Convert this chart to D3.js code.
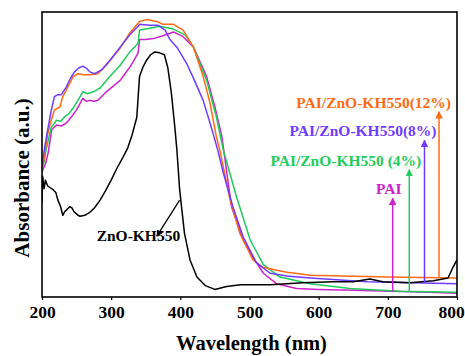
<!DOCTYPE html>
<html>
<head>
<meta charset="utf-8">
<script src="https://cdn.jsdelivr.net/npm/d3@7"></script>
<style>
  body { margin: 0; background: #fff; }
</style>
</head>
<body>
<div id="chart"></div>
<script>
// wavelength (nm) / absorbance (a.u.)
const znoWl  = [200, 201, 203, 205, 208, 212, 216, 220, 223, 227, 230, 233, 236, 240, 243, 246, 249, 252, 255, 262, 269, 276, 284, 292, 300, 308, 317, 324, 330, 337, 341, 346, 351, 357, 363, 370, 377, 382, 387, 392, 395, 399, 406, 414, 424, 436, 450, 467, 487, 530, 577, 621, 650, 674, 693, 732, 766, 787, 794, 800];
const znoAbs = [1.00, 1.27, 1.14, 1.23, 1.17, 1.15, 1.13, 1.10, 1.02, 0.95, 0.86, 0.90, 0.92, 0.95, 0.94, 0.90, 0.88, 0.86, 0.85, 0.86, 0.89, 0.94, 1.02, 1.12, 1.23, 1.35, 1.47, 1.57, 1.70, 1.89, 2.32, 2.42, 2.49, 2.55, 2.58, 2.57, 2.55, 2.41, 2.15, 1.79, 1.55, 1.13, 0.67, 0.39, 0.21, 0.12, 0.08, 0.11, 0.13, 0.13, 0.15, 0.16, 0.16, 0.19, 0.16, 0.15, 0.17, 0.20, 0.31, 0.39];

const paiWl  = [200, 205, 209, 214, 221, 228, 235, 243, 250, 259, 264, 269, 275, 281, 293, 303, 313, 320, 327, 333, 339, 341, 350, 361, 375, 390, 404, 419, 438, 450, 460, 474, 491, 505, 520, 539, 568, 600, 650, 703, 760, 800];
const paiAbs = [1.32, 1.40, 1.52, 1.76, 1.81, 1.80, 1.83, 1.90, 1.97, 2.09, 2.06, 2.07, 2.06, 2.07, 2.16, 2.22, 2.28, 2.35, 2.42, 2.49, 2.57, 2.71, 2.71, 2.72, 2.75, 2.79, 2.74, 2.63, 2.32, 2.00, 1.69, 0.95, 0.60, 0.42, 0.25, 0.14, 0.09, 0.08, 0.07, 0.06, 0.05, 0.04];

const zno4Wl  = [200, 203, 206, 213, 221, 227, 233, 239, 245, 252, 259, 266, 274, 284, 298, 313, 327, 339, 341, 356, 370, 390, 407, 419, 438, 452, 462, 481, 501, 520, 544, 588, 645, 718, 800];
const zno4Abs = [1.34, 1.42, 1.55, 1.78, 1.86, 1.85, 1.90, 1.93, 1.99, 2.07, 2.16, 2.14, 2.16, 2.20, 2.32, 2.44, 2.58, 2.67, 2.81, 2.83, 2.85, 2.82, 2.76, 2.63, 2.28, 1.90, 1.55, 1.06, 0.60, 0.34, 0.21, 0.14, 0.09, 0.06, 0.05];

const zno8Wl  = [200, 204, 209, 213, 218, 223, 228, 235, 241, 247, 253, 259, 264, 269, 276, 286, 298, 313, 327, 339, 341, 356, 368, 378, 385, 395, 409, 418, 433, 443, 454, 462, 476, 491, 510, 530, 554, 588, 670, 800];
const zno8Abs = [1.39, 1.58, 1.79, 1.95, 2.11, 2.13, 2.13, 2.21, 2.30, 2.37, 2.41, 2.43, 2.41, 2.37, 2.35, 2.39, 2.49, 2.63, 2.76, 2.85, 2.87, 2.86, 2.86, 2.81, 2.71, 2.63, 2.46, 2.32, 2.07, 1.83, 1.55, 1.31, 0.95, 0.63, 0.36, 0.25, 0.22, 0.20, 0.16, 0.14];

const zno12Wl  = [200, 202, 208, 213, 218, 226, 230, 238, 245, 252, 260, 269, 281, 293, 313, 327, 341, 351, 366, 375, 390, 404, 419, 433, 443, 452, 457, 472, 486, 505, 520, 554, 588, 700, 800];
const zno12Abs = [1.36, 1.41, 1.71, 1.85, 1.97, 2.00, 2.11, 2.22, 2.32, 2.35, 2.34, 2.34, 2.35, 2.44, 2.62, 2.78, 2.90, 2.92, 2.90, 2.87, 2.87, 2.81, 2.63, 2.32, 2.04, 1.69, 1.55, 1.02, 0.67, 0.39, 0.31, 0.26, 0.23, 0.21, 0.20];

const seriesNames  = ["ZnO-KH550", "PAI", "PAI/ZnO-KH550 (4%)", "PAI/ZnO-KH550(8%)", "PAI/ZnO-KH550(12%)"];
const seriesColors = ["#000000", "#cc22cc", "#1fcc5a", "#6f3cff", "#ff6a12"];

// arrow wavelength and tip absorbance for the four polymer labels
const arrowSeries = [1, 2, 3, 4];
const arrowWl  = [707, 731, 753, 774];
const arrowTop = [1.04, 1.34, 1.65, 1.95];

const xTicks = [200, 300, 400, 500, 600, 700, 800];

const width = 465, height = 356;
const margin = { top: 12, right: 8, bottom: 59, left: 42 };
const serif = "Liberation Serif";

const svg = d3.select("#chart").append("svg")
    .attr("width", width)
    .attr("height", height);

const x = d3.scaleLinear().domain([200, 800]).range([margin.left, width - margin.right]);
const y = d3.scaleLinear().domain([0, 3]).range([height - margin.bottom, margin.top]);

const series = [
    { wl: znoWl, abs: znoAbs },
    { wl: paiWl, abs: paiAbs },
    { wl: zno4Wl, abs: zno4Abs },
    { wl: zno8Wl, abs: zno8Abs },
    { wl: zno12Wl, abs: zno12Abs }
].map((s, i) => ({
    name: seriesNames[i],
    color: seriesColors[i],
    points: s.wl.map((w, j) => [w, s.abs[j]])
}));

const defs = svg.append("defs");
defs.append("clipPath").attr("id", "plot-clip")
  .append("rect")
    .attr("x", margin.left)
    .attr("y", margin.top)
    .attr("width", width - margin.left - margin.right)
    .attr("height", height - margin.top - margin.bottom);

seriesColors.forEach((c, i) => {
    defs.append("marker")
        .attr("id", "head" + i)
        .attr("viewBox", "0 0 10 10")
        .attr("refX", 9).attr("refY", 5)
        .attr("markerWidth", 5).attr("markerHeight", 5)
        .attr("markerUnits", "strokeWidth")
        .attr("orient", "auto")
      .append("path")
        .attr("d", "M0,0L10,5L0,10z")
        .attr("fill", c);
});

const line = d3.line()
    .x(d => x(d[0]))
    .y(d => y(d[1]));

// polymer curves first, bare filler on top
const drawOrder = [1, 2, 4, 3, 0];
svg.append("g").attr("clip-path", "url(#plot-clip)")
  .selectAll("path")
  .data(drawOrder.map(i => series[i]))
  .join("path")
    .attr("d", d => line(d.points))
    .attr("fill", "none")
    .attr("stroke", d => d.color)
    .attr("stroke-width", 1.5)
    .attr("stroke-linejoin", "round");

// value of a series at a wavelength (for where the arrow starts)
function valueAt(s, w) {
    const pts = s.points;
    const k = d3.bisector(d => d[0]).left(pts, w);
    if (k <= 0) return pts[0][1];
    if (k >= pts.length) return pts[pts.length - 1][1];
    const a = pts[k - 1], b = pts[k];
    return a[1] + (b[1] - a[1]) * (w - a[0]) / (b[0] - a[0]);
}

const labels = svg.append("g")
    .attr("font-family", serif)
    .attr("font-weight", "bold");

arrowSeries.forEach((si, i) => {
    const s = series[si];
    const xa = x(arrowWl[i]);
    labels.append("line")
        .attr("x1", xa).attr("x2", xa)
        .attr("y1", y(valueAt(s, arrowWl[i])))
        .attr("y2", y(arrowTop[i]))
        .attr("stroke", s.color)
        .attr("stroke-width", 1.5)
        .attr("marker-end", "url(#head" + si + ")");
    labels.append("text")
        .attr("x", si === 1 ? xa - 4 : xa + 12)
        .attr("y", y(arrowTop[i]) - 4)
        .attr("text-anchor", si === 1 ? "middle" : "end")
        .attr("font-size", 15.5)
        .attr("fill", s.color)
        .text(s.name);
});

// ZnO-KH550 callout
labels.append("line")
    .attr("x1", x(399)).attr("y1", y(1.02))
    .attr("x2", x(366)).attr("y2", y(0.64))
    .attr("stroke", "#000")
    .attr("stroke-width", 1.3)
    .attr("marker-end", "url(#head0)");
labels.append("text")
    .attr("x", x(279))
    .attr("y", y(0.59))
    .attr("font-size", 15.5)
    .attr("fill", "#000")
    .text(series[0].name);

// axes and frame
svg.append("g")
    .attr("transform", `translate(0,${height - margin.bottom})`)
    .call(d3.axisBottom(x).tickValues(xTicks).tickFormat(d3.format("d")).tickSize(3).tickPadding(6))
    .call(g => g.select(".domain").remove())
    .call(g => g.selectAll("line").attr("stroke-width", 1.2))
    .call(g => g.selectAll("text")
        .attr("font-family", serif)
        .attr("font-weight", "bold")
        .attr("font-size", 17.5)
        .attr("fill", "#000"))
    // last label sits flush with the right edge, as in the original
    .call(g => g.selectAll(".tick").filter(d => d === 800).select("text").attr("dx", -6));

svg.append("rect")
    .attr("x", margin.left)
    .attr("y", margin.top)
    .attr("width", width - margin.left - margin.right)
    .attr("height", height - margin.top - margin.bottom)
    .attr("fill", "none")
    .attr("stroke", "#000")
    .attr("stroke-width", 1.6);

svg.append("text")
    .attr("x", (margin.left + width - margin.right) / 2 + 2)
    .attr("y", 350)
    .attr("text-anchor", "middle")
    .attr("font-family", serif)
    .attr("font-weight", "bold")
    .attr("font-size", 20.5)
    .text("Wavelength (nm)");

svg.append("text")
    .attr("transform", `translate(29,178) rotate(-90)`)
    .attr("text-anchor", "middle")
    .attr("font-family", serif)
    .attr("font-weight", "bold")
    .attr("font-size", 21)
    .text("Absorbance (a.u.)");
</script>
</body>
</html>
